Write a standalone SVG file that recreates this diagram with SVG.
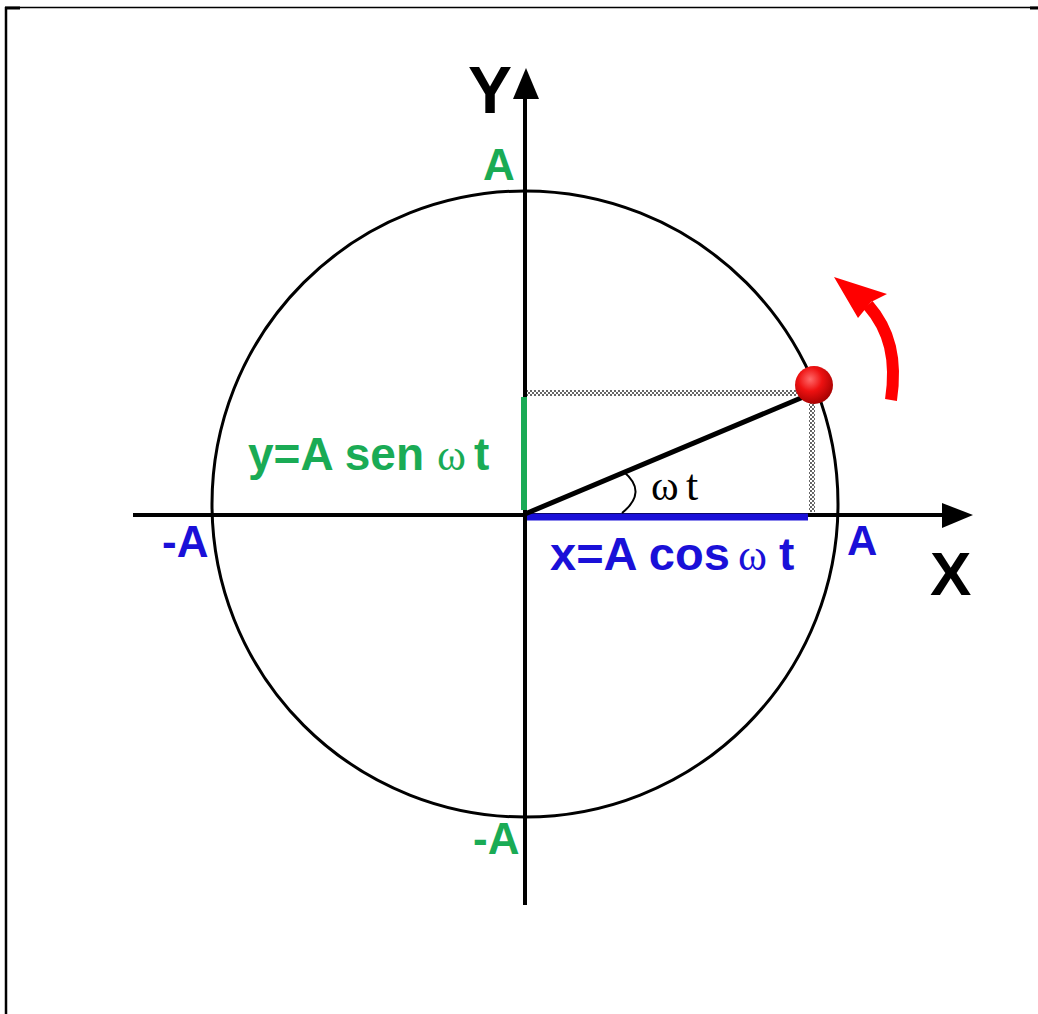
<svg xmlns="http://www.w3.org/2000/svg" width="1038" height="1014" viewBox="0 0 1038 1014">
<defs>
<style>
.lbl{font-family:"Liberation Sans",Arial,sans-serif;font-weight:bold}
.om{font-family:"Liberation Serif","Times New Roman",serif;font-weight:normal}
.green{fill:#1aab55}
.blue{fill:#1a10d8}
.axis{stroke:#000;stroke-width:4;fill:none}
</style>
<pattern id="chk" width="4" height="4" patternUnits="userSpaceOnUse">
<rect width="4" height="4" fill="#fff"/>
<rect width="2" height="2" fill="#666"/>
<rect x="2" y="2" width="2" height="2" fill="#666"/>
</pattern>
<radialGradient id="ball" cx="0.4" cy="0.35" r="0.7">
<stop offset="0" stop-color="#ff6a6a"/>
<stop offset="0.45" stop-color="#ee1111"/>
<stop offset="1" stop-color="#a00000"/>
</radialGradient>
</defs>
<rect width="1038" height="1014" fill="#fff"/>
<g id="frame">
<line x1="5" y1="7.5" x2="1038" y2="7.5" stroke="#000" stroke-width="1.5"/>
<line x1="6" y1="7" x2="6" y2="1014" stroke="#000" stroke-width="2.5"/>
<rect x="5" y="6.5" width="15" height="3" fill="#000"/>
<rect x="1030" y="6.5" width="8" height="3" fill="#000"/>
</g>
<g id="circle">
<circle cx="525" cy="504" r="313" fill="none" stroke="#000" stroke-width="3"/>
</g>
<g id="connectors">
<rect x="527" y="390" width="272" height="6" fill="url(#chk)"/>
<rect x="809" y="398" width="6" height="114" fill="url(#chk)"/>
<line x1="133" y1="515" x2="948" y2="515" class="axis"/>
<path d="M942,503 L973,515 L942,528 z" fill="#000"/>
<line x1="525" y1="905" x2="525" y2="95" class="axis"/>
<path d="M513,99 L526,68 L539,99 z" fill="#000"/>
<line x1="524" y1="397" x2="524" y2="510" stroke="#1aab55" stroke-width="6"/>
<line x1="527" y1="517" x2="808" y2="517" stroke="#1a10d8" stroke-width="7"/>
<line x1="525" y1="514" x2="808" y2="395" stroke="#000" stroke-width="5"/>
<path d="M624,472 Q648,492 622,513" fill="none" stroke="#000" stroke-width="2"/>
<path d="M891,400 C897,360 890,330 868,305" fill="none" stroke="#f00" stroke-width="12"/>
<path d="M834,277 L887,294 L871,302 L858,318 z" fill="#f00"/>
</g>
<g id="ball-node">
<circle cx="814" cy="385" r="19" fill="url(#ball)"/>
</g>
<g id="labels">
<text x="468" y="113" class="lbl" font-size="66" fill="#000">Y</text>
<text x="930" y="595" class="lbl" font-size="62" fill="#000">X</text>
<text x="483" y="180" class="lbl green" font-size="44">A</text>
<text x="473" y="854" class="lbl green" font-size="44">-A</text>
<text x="162" y="557" class="lbl blue" font-size="44">-A</text>
<text x="847" y="555" class="lbl blue" font-size="42">A</text>
<text x="248" y="470" class="lbl green" font-size="46">y=A sen</text>
<text x="437" y="470" class="om green" font-size="44">ω</text>
<text x="474" y="470" class="lbl green" font-size="46">t</text>
<text x="550" y="570" class="lbl blue" font-size="47">x=A cos</text>
<text x="738" y="570" class="om blue" font-size="44">ω</text>
<text x="779" y="570" class="lbl blue" font-size="46">t</text>
<text x="651" y="500" class="om" font-size="42" fill="#000">ω</text>
<text x="686" y="500" class="om" font-size="44" fill="#000">t</text>
</g>
</svg>
